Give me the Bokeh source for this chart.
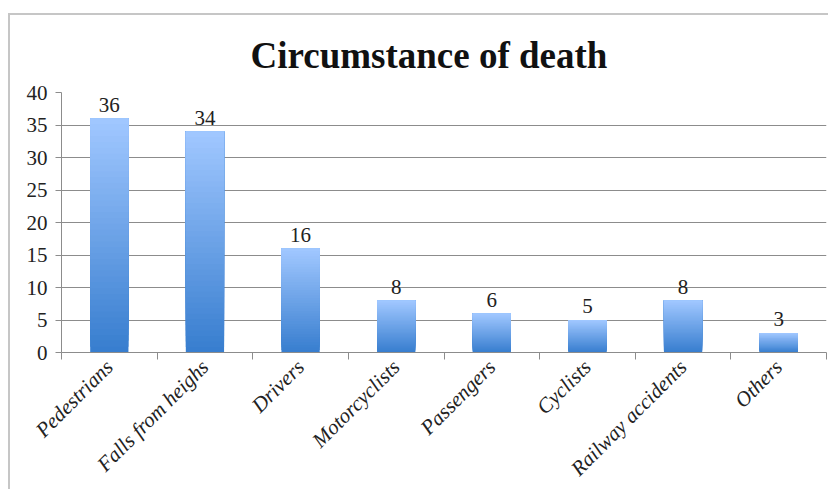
import numpy as np
from bokeh.plotting import figure
from bokeh.models import FixedTicker, Range1d
from bokeh.embed import file_html
from bokeh.resources import INLINE

categories = ["Pedestrians", "Falls from heighs", "Drivers", "Motorcyclists",
              "Passengers", "Cyclists", "Railway accidents", "Others"]
counts = [36, 34, 16, 8, 6, 5, 8, 3]
y_ticks = [0, 5, 10, 15, 20, 25, 30, 35, 40]
title_text = "Circumstance of death"

SERIF = "Liberation Serif"
GRID = "#8c8c8c"

p = figure(width=820, height=476, x_range=Range1d(0, len(categories)),
           y_range=Range1d(0, 40), output_backend="svg", toolbar_location=None,
           min_border_left=51, min_border_right=4, min_border_top=77,
           min_border_bottom=137)
p.margin = (13, 0, 0, 8)
p.styles = {"border-top": "2px solid #c6c6c6", "border-left": "2px solid #c6c6c6"}

p.title.text = title_text
p.title.align = "left"
p.title.offset = 189
p.title.text_font = "Liberation Serif"
p.title.text_font_style = "bold"
p.title.text_font_size = "37px"
p.title.text_color = "#111111"
p.title.standoff = 33

p.outline_line_color = None
p.background_fill_color = "white"
p.border_fill_color = "white"

# gradient bars: overlapping layers, each drawn from a fraction of the value to the top
xs = [i + 0.5 for i in range(len(categories))]
n = 40
bottom_rgb = np.array([56, 126, 207])
top_rgb = np.array([160, 199, 255])
bx, bb, bt, bc = [], [], [], []
for x, v in zip(xs, counts):
    for k in range(n):
        f = k / (n - 1)
        c = bottom_rgb + (top_rgb - bottom_rgb) * f
        bx.append(x)
        bb.append(v * k / n)
        bt.append(v)
        bc.append("#%02x%02x%02x" % tuple(int(round(t)) for t in c))
p.vbar(x=bx, bottom=bb, top=bt, width=0.4, fill_color=bc, line_color=None)

p.text(x=xs, y=counts, text=[str(c) for c in counts], text_align="center",
       text_baseline="bottom", y_offset=-7, text_font_size="21px",
       text_font={"value": SERIF}, text_color="#222222")

# y axis
p.yaxis.ticker = FixedTicker(ticks=y_ticks, minor_ticks=[])
p.yaxis.axis_line_color = GRID
p.yaxis.major_tick_line_color = GRID
p.yaxis.major_tick_in = 0
p.yaxis.major_tick_out = 6
p.yaxis.major_label_standoff = 8
p.yaxis.major_label_text_font = SERIF
p.yaxis.major_label_text_font_size = "21px"
p.yaxis.major_label_text_color = "#222222"

# x axis
p.xaxis.ticker = FixedTicker(ticks=xs, minor_ticks=list(range(len(categories) + 1)))
p.xaxis.major_label_overrides = {x: c for x, c in zip(xs, categories)}
p.xaxis.major_label_orientation = np.pi / 4
p.xaxis.major_tick_line_color = None
p.xaxis.major_tick_in = 0
p.xaxis.major_tick_out = 0
p.xaxis.minor_tick_line_color = GRID
p.xaxis.minor_tick_in = 0
p.xaxis.minor_tick_out = 7
p.xaxis.axis_line_color = GRID
p.xaxis.major_label_standoff = 4
p.xaxis.major_label_text_font = SERIF
p.xaxis.major_label_text_font_style = "italic"
p.xaxis.major_label_text_font_size = "21px"
p.xaxis.major_label_text_color = "#222222"

p.xgrid.visible = False
p.ygrid.ticker = FixedTicker(ticks=y_ticks)
p.ygrid.grid_line_color = GRID
p.ygrid.grid_line_width = 1.2

open("out.html", "w").write(file_html(p, INLINE))
